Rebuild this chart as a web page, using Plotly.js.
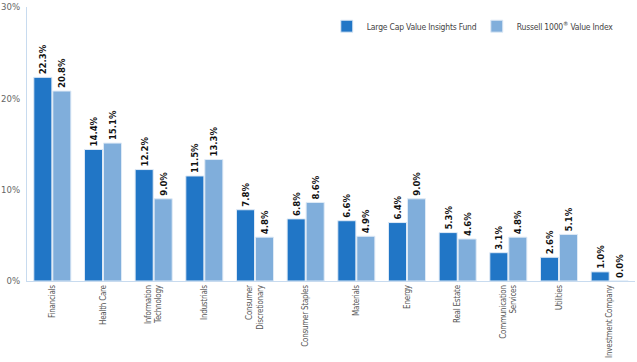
<!DOCTYPE html>
<html><head><meta charset="utf-8">
<script src="https://cdn.plot.ly/plotly-3.0.1.min.js"></script>
<style>html,body{margin:0;padding:0;background:#fff}#chart{width:637px;height:362px}
#chart svg text{font-stretch:condensed !important;}
#chart .xtick text{letter-spacing:-0.25px;}
#chart .legendtext{letter-spacing:-0.2px;}</style>
</head><body><div id="chart"></div>
<script>
const categories = ["Financials","Health Care","Information<br>Technology","Industrials","Consumer<br>Discretionary","Consumer Staples","Materials","Energy","Real Estate","Communication<br>Services","Utilities","Investment Company"];
const fundValues = [22.3,14.4,12.2,11.5,7.8,6.8,6.6,6.4,5.3,3.1,2.6,1.0];
const indexValues = [20.8,15.1,9.0,13.3,4.8,8.6,4.9,9.0,4.6,4.8,5.1,0.0];
const seriesNames = ["Large Cap Value Insights Fund","Russell 1000<sup>®</sup> Value Index"];
const yTicks = [0,10,20,30];

const FONT = "'DejaVu Sans Condensed', 'Liberation Sans Narrow', 'DejaVu Sans', sans-serif";
function mk(name, vals, color){
  return {type:'bar', name:name, x:categories, y:vals,
    marker:{color:color, line:{color:'#dfeaf6', width:1}},
    text: vals.map(v=>v.toFixed(1)+'%'), textposition:'outside', textangle:-90,
    textfont:{family:FONT, size:9.5, color:'#111', weight:'bold'}, cliponaxis:false,
    constraintext:'none', hoverinfo:'skip'};
}
const data = [mk(seriesNames[0], fundValues, '#2176c6'), mk(seriesNames[1], indexValues, '#80aedb')];
const layout = {
  width:637, height:362, margin:{l:27,r:2,t:7,b:81},
  paper_bgcolor:'#fff', plot_bgcolor:'#fff',
  bargap:0.25, bargroupgap:0.05,
  font:{family:FONT, color:'#555', size:9},
  xaxis:{automargin:false, tickangle:-90, tickfont:{family:FONT,size:8,color:'#555'}, showline:true, linecolor:'#c8dbef', linewidth:1, ticks:'', showgrid:false, zeroline:false},
  yaxis:{automargin:false, range:[0,30], tickvals:yTicks, ticktext:yTicks.map(v=>v+'%'), showgrid:false, zeroline:false, showline:true, linecolor:'#c8dbef', linewidth:1, ticks:'', tickfont:{family:FONT,size:9.5,color:'#666'}, ticklabelstandoff:4},
  showlegend:true,
  legend:{orientation:'h', x:0.9865, xanchor:'right', y:0.93, yanchor:'middle', font:{family:FONT,size:8.5,color:'#444'}, bgcolor:'rgba(0,0,0,0)', traceorder:'normal', itemclick:false, entrywidth:105}
};
Plotly.newPlot('chart', data, layout, {displayModeBar:false, staticPlot:true});
</script></body></html>
